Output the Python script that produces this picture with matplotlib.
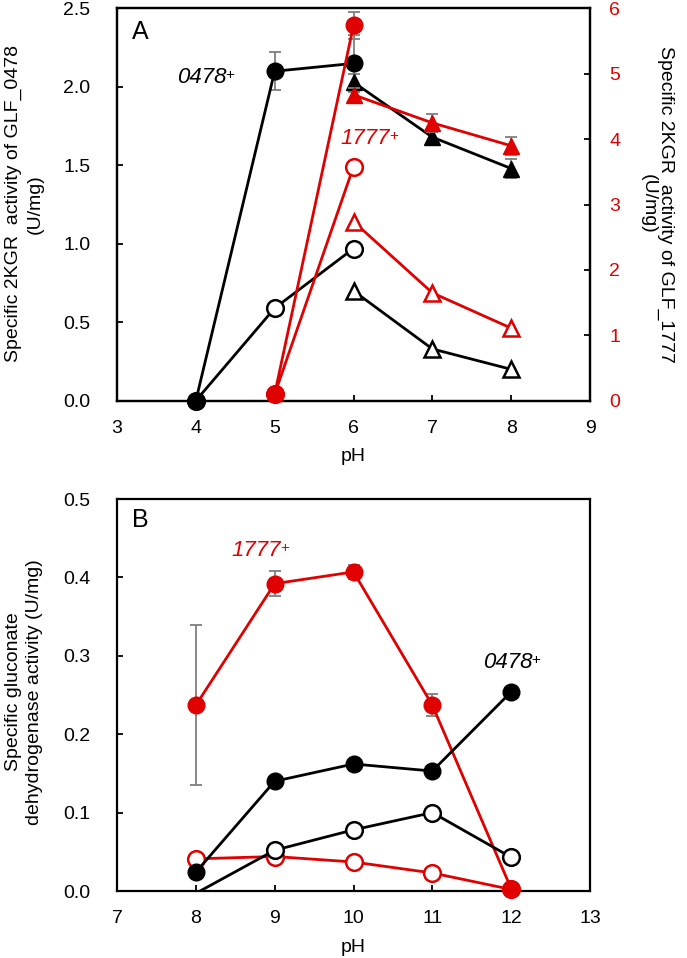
import matplotlib
matplotlib.use("Agg")
import matplotlib.pyplot as plt

plt.rcParams['font.family'] = ['Liberation Sans', 'DejaVu Sans']

RED = '#e00000'
GRAY = '#7f7f7f'

# ---------------- Panel A data ----------------
phA_circ = [4, 5, 6]
a_0478_filled = [0.0, 2.10, 2.15]
a_0478_filled_err = [0.0, 0.12, 0.18]
a_0478_open = [0.0, 0.59, 0.97]
phA_tri = [6, 7, 8]
a_0478_tri_filled = [2.03, 1.68, 1.48]
a_0478_tri_filled_err = [0.05, 0.03, 0.06]
a_0478_tri_open = [0.70, 0.33, 0.20]

phA_red_circ = [5, 6]
a_1777_filled = [0.10, 5.74]
a_1777_filled_err = [0.0, 0.20]
a_1777_open = [0.10, 3.58]
a_1777_tri_filled = [4.68, 4.25, 3.90]
a_1777_tri_filled_err = [0.10, 0.14, 0.14]
a_1777_tri_open = [2.74, 1.65, 1.11]

# ---------------- Panel B data ----------------
phB = [8, 9, 10, 11, 12]
b_1777_filled = [0.237, 0.392, 0.407, 0.237, 0.003]
b_1777_filled_err = [0.102, 0.016, 0.009, 0.014, 0.0]
b_1777_open = [0.041, 0.044, 0.037, 0.023, 0.002]
b_0478_filled = [0.024, 0.140, 0.162, 0.153, 0.254]
b_0478_open = [-0.003, 0.052, 0.078, 0.100, 0.043]

fig = plt.figure(figsize=(6.87, 9.58), dpi=100)
W, H = 687, 958
axA = fig.add_axes([117/W, 1-400.7/H, 473/W, 392.2/H])
axB = fig.add_axes([117/W, 1-891/H, 473/W, 392/H])

LW = 2.0
MS = 12
MEW = 1.8
FS = 14

def style_axis(ax):
    for s in ax.spines.values():
        s.set_linewidth(1.6)
    ax.tick_params(direction='in', length=4, width=1.3, labelsize=FS, top=False)
    ax.tick_params(axis='x', pad=14)
    ax.tick_params(axis='y', pad=19)

def err(ax, x, y, e, color, marker, z):
    ax.errorbar(x, y, yerr=e, color=color, lw=LW, marker=marker, ms=MS, mfc=color,
                mec=color, ecolor=GRAY, elinewidth=1.3, capsize=4, capthick=1.3,
                clip_on=False, zorder=z)

def hollow(ax, x, y, color, marker, z, **kw):
    ax.plot(x, y, color=color, lw=LW, marker=marker, ms=MS, mfc='white', mec=color,
            mew=MEW, zorder=z, **kw)

def tag(ax, x, y, s, color):
    t = ax.text(x, y, s, fontsize=16, style='italic', va='center', ha='left', color=color)
    ax.annotate('+', xy=(0.985, 0.95), xycoords=t, fontsize=11, va='top', ha='left',
                color=color)

# ---- Panel A ----
axR = axA.twinx()
err(axA, phA_circ, a_0478_filled, a_0478_filled_err, 'black', 'o', 4)
hollow(axA, phA_circ, a_0478_open, 'black', 'o', 3, clip_on=False)
err(axA, phA_tri, a_0478_tri_filled, a_0478_tri_filled_err, 'black', '^', 4)
hollow(axA, phA_tri, a_0478_tri_open, 'black', '^', 3)
hollow(axR, phA_red_circ, a_1777_open, RED, 'o', 3, clip_on=False)
err(axR, phA_red_circ, a_1777_filled, a_1777_filled_err, RED, 'o', 4)
err(axR, phA_tri, a_1777_tri_filled, a_1777_tri_filled_err, RED, '^', 4)
hollow(axR, phA_tri, a_1777_tri_open, RED, '^', 3)

axA.set_xlim(3, 9)
axA.set_ylim(0, 2.5)
axA.set_xticks([3, 4, 5, 6, 7, 8, 9])
axA.set_yticks([0, 0.5, 1.0, 1.5, 2.0, 2.5])
axA.set_yticklabels(['0.0', '0.5', '1.0', '1.5', '2.0', '2.5'])
axR.set_ylim(0, 6)
axR.set_yticks([0, 1, 2, 3, 4, 5, 6])
style_axis(axA)
style_axis(axR)
axR.tick_params(axis='y', colors='black', labelcolor=RED, right=True, left=False, pad=14)
axA.tick_params(axis='y', right=False)
axA.set_xlabel('pH', fontsize=FS, labelpad=8)
fig.text(24/W, 1-204/H, 'Specific 2KGR  activity of GLF_0478\n(U/mg)', fontsize=FS,
         rotation=90, ha='center', va='center', multialignment='center', linespacing=1.35)
fig.text(657/W, 1-204/H, 'Specific 2KGR  activity of GLF_1777\n(U/mg)', fontsize=FS,
         rotation=270, ha='center', va='center', multialignment='center', linespacing=1.05)
axA.text(0.031, 0.939, 'A', transform=axA.transAxes, fontsize=18, va='center', ha='left')
tag(axA, 3.76, 2.06, '0478', 'black')
tag(axA, 5.84, 1.67, '1777', RED)

# ---- Panel B ----
err(axB, phB, b_1777_filled, b_1777_filled_err, RED, 'o', 4)
hollow(axB, phB, b_1777_open, RED, 'o', 3, clip_on=False)
axB.plot(phB, b_0478_filled, color='black', lw=LW, marker='o', ms=MS, mfc='black',
         mec='black', clip_on=False, zorder=5)
hollow(axB, phB, b_0478_open, 'black', 'o', 5, markevery=[1, 2, 3, 4])

axB.set_xlim(7, 13)
axB.set_ylim(0, 0.5)
axB.set_xticks([7, 8, 9, 10, 11, 12, 13])
axB.set_yticks([0, 0.1, 0.2, 0.3, 0.4, 0.5])
axB.set_yticklabels(['0.0', '0.1', '0.2', '0.3', '0.4', '0.5'])
style_axis(axB)
axB.tick_params(right=False)
axB.set_xlabel('pH', fontsize=FS, labelpad=8)
fig.text(24/W, 1-692/H, 'Specific gluconate\ndehydrogenase activity (U/mg)', fontsize=FS,
         rotation=90, ha='center', va='center', multialignment='center', linespacing=1.35)
axB.text(0.031, 0.946, 'B', transform=axB.transAxes, fontsize=18, va='center', ha='left')
tag(axB, 8.45, 0.434, '1777', RED)
tag(axB, 11.64, 0.291, '0478', 'black')

fig.savefig('out.png', dpi=100)
